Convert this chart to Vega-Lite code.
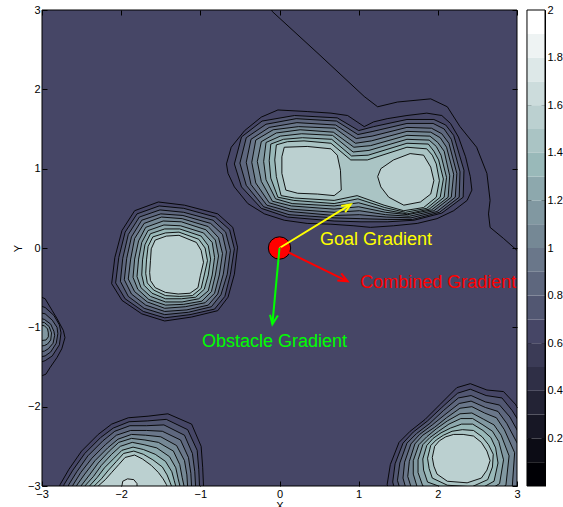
{
"$schema":"https://vega.github.io/schema/vega-lite/v6.json",
"width":475,"height":476,
"autosize":{"type":"none"},
"padding":{"left":42,"top":10,"right":46,"bottom":21},
"background":"white",
"view":{"fill":"#464666","stroke":null},
"config":{"font":"Liberation Sans","view":{"stroke":null},
"axis":{"grid":false,"domain":false,"tickColor":"black","labelColor":"black","titleColor":"black","labelFont":"Liberation Sans","titleFont":"Liberation Sans","labelFontSize":11,"titleFontSize":11,"titleFontWeight":"normal","tickSize":-5,"labelPadding":7,"tickWidth":1,"labelFlush":false,"labelOverlap":false}},
"datasets":{
"c":[
{"g":0,"b":6,"x":-0.67,"y":1.06},{"g":0,"b":6,"x":-0.61,"y":1.27},{"g":0,"b":6,"x":-0.44,"y":1.48},{"g":0,"b":6,"x":-0.23,"y":1.65},{"g":0,"b":6,"x":-0.02,"y":1.74},{"g":0,"b":6,"x":0.35,"y":1.72},{"g":0,"b":6,"x":0.65,"y":1.70},{"g":0,"b":6,"x":0.86,"y":1.67},{"g":0,"b":6,"x":0.98,"y":1.59},{"g":0,"b":6,"x":1.07,"y":1.53},{"g":0,"b":6,"x":1.19,"y":1.59},{"g":0,"b":6,"x":1.36,"y":1.63},{"g":0,"b":6,"x":1.61,"y":1.67},{"g":0,"b":6,"x":1.86,"y":1.70},{"g":0,"b":6,"x":2.05,"y":1.67},{"g":0,"b":6,"x":2.16,"y":1.57},{"g":0,"b":6,"x":2.26,"y":1.40},{"g":0,"b":6,"x":2.35,"y":1.15},{"g":0,"b":6,"x":2.41,"y":0.90},{"g":0,"b":6,"x":2.43,"y":0.73},{"g":0,"b":6,"x":2.37,"y":0.60},{"g":0,"b":6,"x":2.20,"y":0.47},{"g":0,"b":6,"x":1.99,"y":0.37},{"g":0,"b":6,"x":1.74,"y":0.31},{"g":0,"b":6,"x":1.44,"y":0.28},{"g":0,"b":6,"x":1.15,"y":0.26},{"g":0,"b":6,"x":0.94,"y":0.28},{"g":0,"b":6,"x":0.65,"y":0.30},{"g":0,"b":6,"x":0.35,"y":0.31},{"g":0,"b":6,"x":0.06,"y":0.35},{"g":0,"b":6,"x":-0.19,"y":0.43},{"g":0,"b":6,"x":-0.40,"y":0.56},{"g":0,"b":6,"x":-0.57,"y":0.77},{"g":0,"b":6,"x":-0.65,"y":0.94},{"g":0,"b":6,"x":-0.67,"y":1.06},
{"g":1,"b":6,"x":-1.83,"y":0.47},{"g":1,"b":6,"x":-1.53,"y":0.58},{"g":1,"b":6,"x":-1.20,"y":0.54},{"g":1,"b":6,"x":-0.78,"y":0.43},{"g":1,"b":6,"x":-0.59,"y":0.26},{"g":1,"b":6,"x":-0.53,"y":0.01},{"g":1,"b":6,"x":-0.57,"y":-0.33},{"g":1,"b":6,"x":-0.65,"y":-0.62},{"g":1,"b":6,"x":-0.78,"y":-0.79},{"g":1,"b":6,"x":-1.11,"y":-0.87},{"g":1,"b":6,"x":-1.45,"y":-0.92},{"g":1,"b":6,"x":-1.74,"y":-0.83},{"g":1,"b":6,"x":-1.99,"y":-0.66},{"g":1,"b":6,"x":-2.12,"y":-0.45},{"g":1,"b":6,"x":-2.08,"y":-0.12},{"g":1,"b":6,"x":-1.99,"y":0.22},{"g":1,"b":6,"x":-1.83,"y":0.47},
{"g":2,"b":6,"x":1.45,"y":-3.30},{"g":2,"b":6,"x":1.36,"y":-2.98},{"g":2,"b":6,"x":1.40,"y":-2.73},{"g":2,"b":6,"x":1.51,"y":-2.45},{"g":2,"b":6,"x":1.65,"y":-2.31},{"g":2,"b":6,"x":1.84,"y":-2.16},{"g":2,"b":6,"x":2.03,"y":-1.97},{"g":2,"b":6,"x":2.24,"y":-1.76},{"g":2,"b":6,"x":2.41,"y":-1.71},{"g":2,"b":6,"x":2.62,"y":-1.79},{"g":2,"b":6,"x":2.83,"y":-1.81},{"g":2,"b":6,"x":2.98,"y":-1.97},{"g":2,"b":6,"x":3.25,"y":-2.40},{"g":2,"b":6,"x":3.25,"y":-3.10},{"g":2,"b":6,"x":2.90,"y":-3.40},{"g":2,"b":6,"x":2.10,"y":-3.40},{"g":2,"b":6,"x":1.45,"y":-3.30},
{"g":3,"b":6,"x":-2.85,"y":-3.20},{"g":3,"b":6,"x":-2.77,"y":-2.98},{"g":3,"b":6,"x":-2.66,"y":-2.79},{"g":3,"b":6,"x":-2.50,"y":-2.56},{"g":3,"b":6,"x":-2.29,"y":-2.35},{"g":3,"b":6,"x":-2.12,"y":-2.22},{"g":3,"b":6,"x":-1.91,"y":-2.14},{"g":3,"b":6,"x":-1.66,"y":-2.12},{"g":3,"b":6,"x":-1.41,"y":-2.09},{"g":3,"b":6,"x":-1.11,"y":-2.22},{"g":3,"b":6,"x":-0.99,"y":-2.50},{"g":3,"b":6,"x":-0.97,"y":-2.77},{"g":3,"b":6,"x":-0.96,"y":-3.00},{"g":3,"b":6,"x":-0.95,"y":-3.20},{"g":3,"b":6,"x":-2.85,"y":-3.20},
{"g":4,"b":6,"x":-3.05,"y":-0.60},{"g":4,"b":6,"x":-2.96,"y":-0.64},{"g":4,"b":6,"x":-2.87,"y":-0.79},{"g":4,"b":6,"x":-2.81,"y":-0.89},{"g":4,"b":6,"x":-2.73,"y":-1.04},{"g":4,"b":6,"x":-2.71,"y":-1.13},{"g":4,"b":6,"x":-2.75,"y":-1.27},{"g":4,"b":6,"x":-2.81,"y":-1.38},{"g":4,"b":6,"x":-2.90,"y":-1.51},{"g":4,"b":6,"x":-2.95,"y":-1.59},{"g":4,"b":6,"x":-3.05,"y":-1.63},{"g":4,"b":6,"x":-3.05,"y":-0.60},

{"g":0,"b":7,"x":-0.48,"y":1.40},{"g":0,"b":7,"x":-0.22,"y":1.60},{"g":0,"b":7,"x":0.19,"y":1.67},{"g":0,"b":7,"x":0.73,"y":1.64},{"g":0,"b":7,"x":1.00,"y":1.48},{"g":0,"b":7,"x":1.19,"y":1.53},{"g":0,"b":7,"x":1.61,"y":1.62},{"g":0,"b":7,"x":1.95,"y":1.62},{"g":0,"b":7,"x":2.10,"y":1.55},{"g":0,"b":7,"x":2.20,"y":1.42},{"g":0,"b":7,"x":2.33,"y":0.98},{"g":0,"b":7,"x":2.32,"y":0.64},{"g":0,"b":7,"x":2.05,"y":0.44},{"g":0,"b":7,"x":1.70,"y":0.35},{"g":0,"b":7,"x":1.36,"y":0.33},{"g":0,"b":7,"x":1.03,"y":0.33},{"g":0,"b":7,"x":0.69,"y":0.34},{"g":0,"b":7,"x":0.10,"y":0.39},{"g":0,"b":7,"x":-0.23,"y":0.50},{"g":0,"b":7,"x":-0.48,"y":0.77},{"g":0,"b":7,"x":-0.57,"y":1.06},{"g":0,"b":7,"x":-0.48,"y":1.40},
{"g":1,"b":7,"x":-1.80,"y":0.43},{"g":1,"b":7,"x":-1.52,"y":0.53},{"g":1,"b":7,"x":-1.21,"y":0.50},{"g":1,"b":7,"x":-0.81,"y":0.39},{"g":1,"b":7,"x":-0.63,"y":0.23},{"g":1,"b":7,"x":-0.57,"y":-0.01},{"g":1,"b":7,"x":-0.62,"y":-0.33},{"g":1,"b":7,"x":-0.69,"y":-0.61},{"g":1,"b":7,"x":-0.82,"y":-0.77},{"g":1,"b":7,"x":-1.13,"y":-0.84},{"g":1,"b":7,"x":-1.45,"y":-0.88},{"g":1,"b":7,"x":-1.72,"y":-0.80},{"g":1,"b":7,"x":-1.95,"y":-0.64},{"g":1,"b":7,"x":-2.07,"y":-0.44},{"g":1,"b":7,"x":-2.03,"y":-0.12},{"g":1,"b":7,"x":-1.95,"y":0.20},{"g":1,"b":7,"x":-1.80,"y":0.43},
{"g":2,"b":7,"x":1.51,"y":-3.25},{"g":2,"b":7,"x":1.43,"y":-2.95},{"g":2,"b":7,"x":1.46,"y":-2.72},{"g":2,"b":7,"x":1.56,"y":-2.46},{"g":2,"b":7,"x":1.69,"y":-2.32},{"g":2,"b":7,"x":1.87,"y":-2.18},{"g":2,"b":7,"x":2.05,"y":-2.01},{"g":2,"b":7,"x":2.25,"y":-1.83},{"g":2,"b":7,"x":2.41,"y":-1.78},{"g":2,"b":7,"x":2.61,"y":-1.86},{"g":2,"b":7,"x":2.81,"y":-1.89},{"g":2,"b":7,"x":2.94,"y":-2.05},{"g":2,"b":7,"x":3.18,"y":-2.44},{"g":2,"b":7,"x":3.17,"y":-3.08},{"g":2,"b":7,"x":2.84,"y":-3.35},{"g":2,"b":7,"x":2.10,"y":-3.35},{"g":2,"b":7,"x":1.51,"y":-3.25},
{"g":3,"b":7,"x":-2.79,"y":-3.20},{"g":3,"b":7,"x":-2.72,"y":-2.98},{"g":3,"b":7,"x":-2.61,"y":-2.80},{"g":3,"b":7,"x":-2.46,"y":-2.59},{"g":3,"b":7,"x":-2.26,"y":-2.39},{"g":3,"b":7,"x":-2.10,"y":-2.27},{"g":3,"b":7,"x":-1.90,"y":-2.19},{"g":3,"b":7,"x":-1.67,"y":-2.18},{"g":3,"b":7,"x":-1.43,"y":-2.16},{"g":3,"b":7,"x":-1.16,"y":-2.29},{"g":3,"b":7,"x":-1.04,"y":-2.55},{"g":3,"b":7,"x":-1.02,"y":-2.79},{"g":3,"b":7,"x":-1.01,"y":-3.01},{"g":3,"b":7,"x":-1.00,"y":-3.20},{"g":3,"b":7,"x":-2.79,"y":-3.20},
{"g":4,"b":7,"x":-3.05,"y":-0.72},{"g":4,"b":7,"x":-2.96,"y":-0.75},{"g":4,"b":7,"x":-2.85,"y":-0.85},{"g":4,"b":7,"x":-2.78,"y":-0.97},{"g":4,"b":7,"x":-2.76,"y":-1.07},{"g":4,"b":7,"x":-2.78,"y":-1.22},{"g":4,"b":7,"x":-2.87,"y":-1.36},{"g":4,"b":7,"x":-2.96,"y":-1.42},{"g":4,"b":7,"x":-3.05,"y":-1.45},{"g":4,"b":7,"x":-3.05,"y":-0.72},

{"g":0,"b":8,"x":-0.42,"y":1.39},{"g":0,"b":8,"x":-0.17,"y":1.56},{"g":0,"b":8,"x":0.21,"y":1.63},{"g":0,"b":8,"x":0.72,"y":1.60},{"g":0,"b":8,"x":0.99,"y":1.43},{"g":0,"b":8,"x":1.18,"y":1.47},{"g":0,"b":8,"x":1.61,"y":1.57},{"g":0,"b":8,"x":1.94,"y":1.57},{"g":0,"b":8,"x":2.08,"y":1.50},{"g":0,"b":8,"x":2.17,"y":1.37},{"g":0,"b":8,"x":2.28,"y":0.96},{"g":0,"b":8,"x":2.27,"y":0.64},{"g":0,"b":8,"x":2.02,"y":0.45},{"g":0,"b":8,"x":1.68,"y":0.36},{"g":0,"b":8,"x":1.36,"y":0.36},{"g":0,"b":8,"x":1.02,"y":0.37},{"g":0,"b":8,"x":0.69,"y":0.38},{"g":0,"b":8,"x":0.12,"y":0.42},{"g":0,"b":8,"x":-0.20,"y":0.52},{"g":0,"b":8,"x":-0.42,"y":0.79},{"g":0,"b":8,"x":-0.50,"y":1.07},{"g":0,"b":8,"x":-0.42,"y":1.39},
{"g":1,"b":8,"x":-1.77,"y":0.39},{"g":1,"b":8,"x":-1.51,"y":0.48},{"g":1,"b":8,"x":-1.21,"y":0.45},{"g":1,"b":8,"x":-0.84,"y":0.35},{"g":1,"b":8,"x":-0.68,"y":0.20},{"g":1,"b":8,"x":-0.62,"y":-0.03},{"g":1,"b":8,"x":-0.66,"y":-0.33},{"g":1,"b":8,"x":-0.74,"y":-0.59},{"g":1,"b":8,"x":-0.86,"y":-0.74},{"g":1,"b":8,"x":-1.15,"y":-0.81},{"g":1,"b":8,"x":-1.45,"y":-0.84},{"g":1,"b":8,"x":-1.71,"y":-0.76},{"g":1,"b":8,"x":-1.91,"y":-0.61},{"g":1,"b":8,"x":-2.01,"y":-0.42},{"g":1,"b":8,"x":-1.98,"y":-0.13},{"g":1,"b":8,"x":-1.91,"y":0.17},{"g":1,"b":8,"x":-1.77,"y":0.39},
{"g":2,"b":8,"x":1.57,"y":-3.20},{"g":2,"b":8,"x":1.49,"y":-2.93},{"g":2,"b":8,"x":1.52,"y":-2.71},{"g":2,"b":8,"x":1.61,"y":-2.46},{"g":2,"b":8,"x":1.73,"y":-2.34},{"g":2,"b":8,"x":1.90,"y":-2.21},{"g":2,"b":8,"x":2.07,"y":-2.05},{"g":2,"b":8,"x":2.26,"y":-1.89},{"g":2,"b":8,"x":2.42,"y":-1.86},{"g":2,"b":8,"x":2.60,"y":-1.94},{"g":2,"b":8,"x":2.78,"y":-1.98},{"g":2,"b":8,"x":2.91,"y":-2.13},{"g":2,"b":8,"x":3.11,"y":-2.49},{"g":2,"b":8,"x":3.09,"y":-3.06},{"g":2,"b":8,"x":2.78,"y":-3.30},{"g":2,"b":8,"x":2.10,"y":-3.30},{"g":2,"b":8,"x":1.57,"y":-3.20},
{"g":3,"b":8,"x":-2.74,"y":-3.20},{"g":3,"b":8,"x":-2.66,"y":-2.98},{"g":3,"b":8,"x":-2.56,"y":-2.82},{"g":3,"b":8,"x":-2.42,"y":-2.62},{"g":3,"b":8,"x":-2.23,"y":-2.43},{"g":3,"b":8,"x":-2.08,"y":-2.31},{"g":3,"b":8,"x":-1.89,"y":-2.24},{"g":3,"b":8,"x":-1.68,"y":-2.24},{"g":3,"b":8,"x":-1.46,"y":-2.23},{"g":3,"b":8,"x":-1.20,"y":-2.36},{"g":3,"b":8,"x":-1.10,"y":-2.59},{"g":3,"b":8,"x":-1.07,"y":-2.82},{"g":3,"b":8,"x":-1.06,"y":-3.01},{"g":3,"b":8,"x":-1.05,"y":-3.20},{"g":3,"b":8,"x":-2.74,"y":-3.20},
{"g":4,"b":8,"x":-3.05,"y":-0.81},{"g":4,"b":8,"x":-2.96,"y":-0.83},{"g":4,"b":8,"x":-2.87,"y":-0.91},{"g":4,"b":8,"x":-2.81,"y":-1.00},{"g":4,"b":8,"x":-2.80,"y":-1.08},{"g":4,"b":8,"x":-2.82,"y":-1.20},{"g":4,"b":8,"x":-2.89,"y":-1.31},{"g":4,"b":8,"x":-2.96,"y":-1.36},{"g":4,"b":8,"x":-3.05,"y":-1.38},{"g":4,"b":8,"x":-3.05,"y":-0.81},

{"g":0,"b":9,"x":-0.36,"y":1.37},{"g":0,"b":9,"x":-0.13,"y":1.52},{"g":0,"b":9,"x":0.22,"y":1.58},{"g":0,"b":9,"x":0.71,"y":1.55},{"g":0,"b":9,"x":0.97,"y":1.38},{"g":0,"b":9,"x":1.17,"y":1.41},{"g":0,"b":9,"x":1.61,"y":1.52},{"g":0,"b":9,"x":1.92,"y":1.51},{"g":0,"b":9,"x":2.05,"y":1.44},{"g":0,"b":9,"x":2.14,"y":1.32},{"g":0,"b":9,"x":2.24,"y":0.94},{"g":0,"b":9,"x":2.22,"y":0.64},{"g":0,"b":9,"x":1.99,"y":0.46},{"g":0,"b":9,"x":1.66,"y":0.38},{"g":0,"b":9,"x":1.35,"y":0.39},{"g":0,"b":9,"x":1.01,"y":0.42},{"g":0,"b":9,"x":0.69,"y":0.41},{"g":0,"b":9,"x":0.13,"y":0.46},{"g":0,"b":9,"x":-0.16,"y":0.54},{"g":0,"b":9,"x":-0.36,"y":0.80},{"g":0,"b":9,"x":-0.42,"y":1.08},{"g":0,"b":9,"x":-0.36,"y":1.37},
{"g":1,"b":9,"x":-1.74,"y":0.35},{"g":1,"b":9,"x":-1.50,"y":0.43},{"g":1,"b":9,"x":-1.22,"y":0.41},{"g":1,"b":9,"x":-0.87,"y":0.31},{"g":1,"b":9,"x":-0.72,"y":0.17},{"g":1,"b":9,"x":-0.67,"y":-0.05},{"g":1,"b":9,"x":-0.71,"y":-0.33},{"g":1,"b":9,"x":-0.78,"y":-0.58},{"g":1,"b":9,"x":-0.90,"y":-0.72},{"g":1,"b":9,"x":-1.17,"y":-0.78},{"g":1,"b":9,"x":-1.45,"y":-0.80},{"g":1,"b":9,"x":-1.69,"y":-0.72},{"g":1,"b":9,"x":-1.87,"y":-0.58},{"g":1,"b":9,"x":-1.96,"y":-0.40},{"g":1,"b":9,"x":-1.93,"y":-0.13},{"g":1,"b":9,"x":-1.87,"y":0.14},{"g":1,"b":9,"x":-1.74,"y":0.35},
{"g":2,"b":9,"x":1.63,"y":-3.15},{"g":2,"b":9,"x":1.56,"y":-2.90},{"g":2,"b":9,"x":1.58,"y":-2.70},{"g":2,"b":9,"x":1.66,"y":-2.47},{"g":2,"b":9,"x":1.77,"y":-2.35},{"g":2,"b":9,"x":1.93,"y":-2.23},{"g":2,"b":9,"x":2.09,"y":-2.10},{"g":2,"b":9,"x":2.27,"y":-1.96},{"g":2,"b":9,"x":2.42,"y":-1.93},{"g":2,"b":9,"x":2.60,"y":-2.01},{"g":2,"b":9,"x":2.76,"y":-2.06},{"g":2,"b":9,"x":2.87,"y":-2.21},{"g":2,"b":9,"x":3.04,"y":-2.53},{"g":2,"b":9,"x":3.02,"y":-3.03},{"g":2,"b":9,"x":2.72,"y":-3.25},{"g":2,"b":9,"x":2.11,"y":-3.25},{"g":2,"b":9,"x":1.63,"y":-3.15},
{"g":3,"b":9,"x":-2.68,"y":-3.20},{"g":3,"b":9,"x":-2.61,"y":-2.99},{"g":3,"b":9,"x":-2.51,"y":-2.83},{"g":3,"b":9,"x":-2.37,"y":-2.65},{"g":3,"b":9,"x":-2.20,"y":-2.48},{"g":3,"b":9,"x":-2.06,"y":-2.36},{"g":3,"b":9,"x":-1.88,"y":-2.30},{"g":3,"b":9,"x":-1.68,"y":-2.30},{"g":3,"b":9,"x":-1.48,"y":-2.31},{"g":3,"b":9,"x":-1.25,"y":-2.42},{"g":3,"b":9,"x":-1.15,"y":-2.64},{"g":3,"b":9,"x":-1.12,"y":-2.84},{"g":3,"b":9,"x":-1.11,"y":-3.02},{"g":3,"b":9,"x":-1.10,"y":-3.20},{"g":3,"b":9,"x":-2.68,"y":-3.20},
{"g":4,"b":9,"x":-3.05,"y":-0.88},{"g":4,"b":9,"x":-2.97,"y":-0.90},{"g":4,"b":9,"x":-2.89,"y":-0.96},{"g":4,"b":9,"x":-2.85,"y":-1.05},{"g":4,"b":9,"x":-2.84,"y":-1.10},{"g":4,"b":9,"x":-2.86,"y":-1.20},{"g":4,"b":9,"x":-2.92,"y":-1.27},{"g":4,"b":9,"x":-2.97,"y":-1.30},{"g":4,"b":9,"x":-3.05,"y":-1.31},{"g":4,"b":9,"x":-3.05,"y":-0.88},

{"g":0,"b":10,"x":-0.30,"y":1.36},{"g":0,"b":10,"x":-0.08,"y":1.49},{"g":0,"b":10,"x":0.24,"y":1.53},{"g":0,"b":10,"x":0.70,"y":1.51},{"g":0,"b":10,"x":0.96,"y":1.32},{"g":0,"b":10,"x":1.16,"y":1.35},{"g":0,"b":10,"x":1.61,"y":1.47},{"g":0,"b":10,"x":1.91,"y":1.46},{"g":0,"b":10,"x":2.03,"y":1.39},{"g":0,"b":10,"x":2.11,"y":1.27},{"g":0,"b":10,"x":2.20,"y":0.93},{"g":0,"b":10,"x":2.17,"y":0.64},{"g":0,"b":10,"x":1.95,"y":0.47},{"g":0,"b":10,"x":1.64,"y":0.40},{"g":0,"b":10,"x":1.34,"y":0.42},{"g":0,"b":10,"x":1.01,"y":0.47},{"g":0,"b":10,"x":0.69,"y":0.45},{"g":0,"b":10,"x":0.14,"y":0.49},{"g":0,"b":10,"x":-0.13,"y":0.57},{"g":0,"b":10,"x":-0.30,"y":0.82},{"g":0,"b":10,"x":-0.35,"y":1.08},{"g":0,"b":10,"x":-0.30,"y":1.36},
{"g":1,"b":10,"x":-1.71,"y":0.31},{"g":1,"b":10,"x":-1.49,"y":0.39},{"g":1,"b":10,"x":-1.23,"y":0.37},{"g":1,"b":10,"x":-0.90,"y":0.27},{"g":1,"b":10,"x":-0.77,"y":0.13},{"g":1,"b":10,"x":-0.72,"y":-0.07},{"g":1,"b":10,"x":-0.76,"y":-0.34},{"g":1,"b":10,"x":-0.82,"y":-0.57},{"g":1,"b":10,"x":-0.94,"y":-0.69},{"g":1,"b":10,"x":-1.19,"y":-0.74},{"g":1,"b":10,"x":-1.45,"y":-0.76},{"g":1,"b":10,"x":-1.67,"y":-0.68},{"g":1,"b":10,"x":-1.83,"y":-0.55},{"g":1,"b":10,"x":-1.91,"y":-0.39},{"g":1,"b":10,"x":-1.88,"y":-0.14},{"g":1,"b":10,"x":-1.83,"y":0.12},{"g":1,"b":10,"x":-1.71,"y":0.31},
{"g":2,"b":10,"x":1.69,"y":-3.10},{"g":2,"b":10,"x":1.62,"y":-2.88},{"g":2,"b":10,"x":1.64,"y":-2.69},{"g":2,"b":10,"x":1.71,"y":-2.47},{"g":2,"b":10,"x":1.81,"y":-2.36},{"g":2,"b":10,"x":1.96,"y":-2.26},{"g":2,"b":10,"x":2.11,"y":-2.14},{"g":2,"b":10,"x":2.28,"y":-2.02},{"g":2,"b":10,"x":2.43,"y":-2.00},{"g":2,"b":10,"x":2.59,"y":-2.08},{"g":2,"b":10,"x":2.74,"y":-2.14},{"g":2,"b":10,"x":2.84,"y":-2.29},{"g":2,"b":10,"x":2.97,"y":-2.58},{"g":2,"b":10,"x":2.94,"y":-3.01},{"g":2,"b":10,"x":2.66,"y":-3.20},{"g":2,"b":10,"x":2.11,"y":-3.20},{"g":2,"b":10,"x":1.69,"y":-3.10},
{"g":3,"b":10,"x":-2.63,"y":-3.20},{"g":3,"b":10,"x":-2.56,"y":-2.99},{"g":3,"b":10,"x":-2.46,"y":-2.85},{"g":3,"b":10,"x":-2.33,"y":-2.68},{"g":3,"b":10,"x":-2.17,"y":-2.52},{"g":3,"b":10,"x":-2.04,"y":-2.41},{"g":3,"b":10,"x":-1.87,"y":-2.35},{"g":3,"b":10,"x":-1.69,"y":-2.36},{"g":3,"b":10,"x":-1.50,"y":-2.38},{"g":3,"b":10,"x":-1.30,"y":-2.49},{"g":3,"b":10,"x":-1.20,"y":-2.68},{"g":3,"b":10,"x":-1.17,"y":-2.86},{"g":3,"b":10,"x":-1.16,"y":-3.02},{"g":3,"b":10,"x":-1.15,"y":-3.20},{"g":3,"b":10,"x":-2.63,"y":-3.20},
{"g":4,"b":10,"x":-3.05,"y":-0.93},{"g":4,"b":10,"x":-2.97,"y":-0.94},{"g":4,"b":10,"x":-2.91,"y":-0.99},{"g":4,"b":10,"x":-2.88,"y":-1.07},{"g":4,"b":10,"x":-2.89,"y":-1.16},{"g":4,"b":10,"x":-2.93,"y":-1.21},{"g":4,"b":10,"x":-2.97,"y":-1.23},{"g":4,"b":10,"x":-3.05,"y":-1.24},{"g":4,"b":10,"x":-3.05,"y":-0.93},

{"g":0,"b":11,"x":-0.23,"y":1.34},{"g":0,"b":11,"x":-0.04,"y":1.45},{"g":0,"b":11,"x":0.26,"y":1.49},{"g":0,"b":11,"x":0.68,"y":1.46},{"g":0,"b":11,"x":0.94,"y":1.27},{"g":0,"b":11,"x":1.15,"y":1.29},{"g":0,"b":11,"x":1.61,"y":1.42},{"g":0,"b":11,"x":1.90,"y":1.41},{"g":0,"b":11,"x":2.00,"y":1.33},{"g":0,"b":11,"x":2.08,"y":1.22},{"g":0,"b":11,"x":2.15,"y":0.91},{"g":0,"b":11,"x":2.13,"y":0.64},{"g":0,"b":11,"x":1.92,"y":0.48},{"g":0,"b":11,"x":1.62,"y":0.42},{"g":0,"b":11,"x":1.34,"y":0.45},{"g":0,"b":11,"x":1.00,"y":0.52},{"g":0,"b":11,"x":0.69,"y":0.49},{"g":0,"b":11,"x":0.15,"y":0.53},{"g":0,"b":11,"x":-0.09,"y":0.59},{"g":0,"b":11,"x":-0.23,"y":0.84},{"g":0,"b":11,"x":-0.28,"y":1.09},{"g":0,"b":11,"x":-0.23,"y":1.34},
{"g":1,"b":11,"x":-1.69,"y":0.26},{"g":1,"b":11,"x":-1.47,"y":0.34},{"g":1,"b":11,"x":-1.24,"y":0.33},{"g":1,"b":11,"x":-0.93,"y":0.23},{"g":1,"b":11,"x":-0.81,"y":0.10},{"g":1,"b":11,"x":-0.77,"y":-0.10},{"g":1,"b":11,"x":-0.81,"y":-0.34},{"g":1,"b":11,"x":-0.86,"y":-0.55},{"g":1,"b":11,"x":-0.98,"y":-0.67},{"g":1,"b":11,"x":-1.21,"y":-0.71},{"g":1,"b":11,"x":-1.44,"y":-0.72},{"g":1,"b":11,"x":-1.65,"y":-0.65},{"g":1,"b":11,"x":-1.79,"y":-0.52},{"g":1,"b":11,"x":-1.85,"y":-0.37},{"g":1,"b":11,"x":-1.83,"y":-0.14},{"g":1,"b":11,"x":-1.78,"y":0.09},{"g":1,"b":11,"x":-1.69,"y":0.26},
{"g":2,"b":11,"x":1.75,"y":-3.05},{"g":2,"b":11,"x":1.69,"y":-2.85},{"g":2,"b":11,"x":1.69,"y":-2.68},{"g":2,"b":11,"x":1.76,"y":-2.48},{"g":2,"b":11,"x":1.86,"y":-2.38},{"g":2,"b":11,"x":1.98,"y":-2.28},{"g":2,"b":11,"x":2.12,"y":-2.18},{"g":2,"b":11,"x":2.28,"y":-2.09},{"g":2,"b":11,"x":2.43,"y":-2.08},{"g":2,"b":11,"x":2.58,"y":-2.16},{"g":2,"b":11,"x":2.71,"y":-2.23},{"g":2,"b":11,"x":2.80,"y":-2.36},{"g":2,"b":11,"x":2.90,"y":-2.62},{"g":2,"b":11,"x":2.86,"y":-2.99},{"g":2,"b":11,"x":2.61,"y":-3.16},{"g":2,"b":11,"x":2.11,"y":-3.14},{"g":2,"b":11,"x":1.75,"y":-3.05},
{"g":3,"b":11,"x":-2.57,"y":-3.20},{"g":3,"b":11,"x":-2.50,"y":-2.99},{"g":3,"b":11,"x":-2.40,"y":-2.86},{"g":3,"b":11,"x":-2.29,"y":-2.71},{"g":3,"b":11,"x":-2.15,"y":-2.56},{"g":3,"b":11,"x":-2.03,"y":-2.45},{"g":3,"b":11,"x":-1.87,"y":-2.40},{"g":3,"b":11,"x":-1.70,"y":-2.42},{"g":3,"b":11,"x":-1.53,"y":-2.45},{"g":3,"b":11,"x":-1.34,"y":-2.56},{"g":3,"b":11,"x":-1.26,"y":-2.73},{"g":3,"b":11,"x":-1.23,"y":-2.89},{"g":3,"b":11,"x":-1.20,"y":-3.03},{"g":3,"b":11,"x":-1.20,"y":-3.20},{"g":3,"b":11,"x":-2.57,"y":-3.20},
{"g":4,"b":11,"x":-3.05,"y":-0.97},{"g":4,"b":11,"x":-2.97,"y":-0.98},{"g":4,"b":11,"x":-2.93,"y":-1.02},{"g":4,"b":11,"x":-2.92,"y":-1.07},{"g":4,"b":11,"x":-2.92,"y":-1.12},{"g":4,"b":11,"x":-2.95,"y":-1.16},{"g":4,"b":11,"x":-3.05,"y":-1.17},{"g":4,"b":11,"x":-3.05,"y":-0.97},

{"g":0,"b":12,"x":-0.17,"y":1.33},{"g":0,"b":12,"x":0.01,"y":1.41},{"g":0,"b":12,"x":0.28,"y":1.44},{"g":0,"b":12,"x":0.67,"y":1.42},{"g":0,"b":12,"x":0.93,"y":1.21},{"g":0,"b":12,"x":1.13,"y":1.23},{"g":0,"b":12,"x":1.61,"y":1.37},{"g":0,"b":12,"x":1.89,"y":1.36},{"g":0,"b":12,"x":1.98,"y":1.28},{"g":0,"b":12,"x":2.04,"y":1.17},{"g":0,"b":12,"x":2.11,"y":0.89},{"g":0,"b":12,"x":2.08,"y":0.64},{"g":0,"b":12,"x":1.89,"y":0.49},{"g":0,"b":12,"x":1.61,"y":0.43},{"g":0,"b":12,"x":1.33,"y":0.48},{"g":0,"b":12,"x":1.00,"y":0.57},{"g":0,"b":12,"x":0.69,"y":0.53},{"g":0,"b":12,"x":0.16,"y":0.56},{"g":0,"b":12,"x":-0.05,"y":0.62},{"g":0,"b":12,"x":-0.17,"y":0.86},{"g":0,"b":12,"x":-0.20,"y":1.09},{"g":0,"b":12,"x":-0.17,"y":1.33},
{"g":1,"b":12,"x":-1.66,"y":0.22},{"g":1,"b":12,"x":-1.46,"y":0.29},{"g":1,"b":12,"x":-1.25,"y":0.28},{"g":1,"b":12,"x":-0.96,"y":0.19},{"g":1,"b":12,"x":-0.85,"y":0.07},{"g":1,"b":12,"x":-0.82,"y":-0.12},{"g":1,"b":12,"x":-0.85,"y":-0.34},{"g":1,"b":12,"x":-0.90,"y":-0.54},{"g":1,"b":12,"x":-1.02,"y":-0.64},{"g":1,"b":12,"x":-1.23,"y":-0.68},{"g":1,"b":12,"x":-1.44,"y":-0.68},{"g":1,"b":12,"x":-1.63,"y":-0.61},{"g":1,"b":12,"x":-1.75,"y":-0.50},{"g":1,"b":12,"x":-1.80,"y":-0.36},{"g":1,"b":12,"x":-1.78,"y":-0.14},{"g":1,"b":12,"x":-1.74,"y":0.07},{"g":1,"b":12,"x":-1.66,"y":0.22},
{"g":2,"b":12,"x":1.81,"y":-3.00},{"g":2,"b":12,"x":1.75,"y":-2.83},{"g":2,"b":12,"x":1.75,"y":-2.67},{"g":2,"b":12,"x":1.81,"y":-2.48},{"g":2,"b":12,"x":1.90,"y":-2.39},{"g":2,"b":12,"x":2.01,"y":-2.31},{"g":2,"b":12,"x":2.14,"y":-2.22},{"g":2,"b":12,"x":2.29,"y":-2.15},{"g":2,"b":12,"x":2.44,"y":-2.15},{"g":2,"b":12,"x":2.57,"y":-2.23},{"g":2,"b":12,"x":2.69,"y":-2.31},{"g":2,"b":12,"x":2.77,"y":-2.44},{"g":2,"b":12,"x":2.83,"y":-2.67},{"g":2,"b":12,"x":2.78,"y":-2.97},{"g":2,"b":12,"x":2.55,"y":-3.11},{"g":2,"b":12,"x":2.11,"y":-3.09},{"g":2,"b":12,"x":1.81,"y":-3.00},
{"g":3,"b":12,"x":-2.52,"y":-3.20},{"g":3,"b":12,"x":-2.45,"y":-2.99},{"g":3,"b":12,"x":-2.35,"y":-2.88},{"g":3,"b":12,"x":-2.25,"y":-2.74},{"g":3,"b":12,"x":-2.12,"y":-2.60},{"g":3,"b":12,"x":-2.01,"y":-2.50},{"g":3,"b":12,"x":-1.86,"y":-2.45},{"g":3,"b":12,"x":-1.71,"y":-2.48},{"g":3,"b":12,"x":-1.55,"y":-2.52},{"g":3,"b":12,"x":-1.39,"y":-2.63},{"g":3,"b":12,"x":-1.31,"y":-2.77},{"g":3,"b":12,"x":-1.28,"y":-2.91},{"g":3,"b":12,"x":-1.25,"y":-3.03},{"g":3,"b":12,"x":-1.25,"y":-3.20},{"g":3,"b":12,"x":-2.52,"y":-3.20},

{"g":0,"b":13,"x":-0.11,"y":1.31},{"g":0,"b":13,"x":0.05,"y":1.37},{"g":0,"b":13,"x":0.29,"y":1.39},{"g":0,"b":13,"x":0.66,"y":1.37},{"g":0,"b":13,"x":0.91,"y":1.16},{"g":0,"b":13,"x":1.12,"y":1.17},{"g":0,"b":13,"x":1.61,"y":1.32},{"g":0,"b":13,"x":1.88,"y":1.31},{"g":0,"b":13,"x":1.95,"y":1.22},{"g":0,"b":13,"x":2.01,"y":1.11},{"g":0,"b":13,"x":2.07,"y":0.87},{"g":0,"b":13,"x":2.03,"y":0.64},{"g":0,"b":13,"x":1.86,"y":0.50},{"g":0,"b":13,"x":1.59,"y":0.45},{"g":0,"b":13,"x":1.33,"y":0.51},{"g":0,"b":13,"x":0.99,"y":0.62},{"g":0,"b":13,"x":0.69,"y":0.56},{"g":0,"b":13,"x":0.18,"y":0.60},{"g":0,"b":13,"x":-0.02,"y":0.64},{"g":0,"b":13,"x":-0.11,"y":0.88},{"g":0,"b":13,"x":-0.13,"y":1.10},{"g":0,"b":13,"x":-0.11,"y":1.31},
{"g":1,"b":13,"x":-1.63,"y":0.18},{"g":1,"b":13,"x":-1.45,"y":0.24},{"g":1,"b":13,"x":-1.26,"y":0.24},{"g":1,"b":13,"x":-0.99,"y":0.15},{"g":1,"b":13,"x":-0.90,"y":0.03},{"g":1,"b":13,"x":-0.87,"y":-0.14},{"g":1,"b":13,"x":-0.90,"y":-0.34},{"g":1,"b":13,"x":-0.95,"y":-0.52},{"g":1,"b":13,"x":-1.06,"y":-0.62},{"g":1,"b":13,"x":-1.24,"y":-0.64},{"g":1,"b":13,"x":-1.44,"y":-0.64},{"g":1,"b":13,"x":-1.61,"y":-0.57},{"g":1,"b":13,"x":-1.71,"y":-0.47},{"g":1,"b":13,"x":-1.74,"y":-0.34},{"g":1,"b":13,"x":-1.73,"y":-0.15},{"g":1,"b":13,"x":-1.70,"y":0.04},{"g":1,"b":13,"x":-1.63,"y":0.18},
{"g":2,"b":13,"x":1.87,"y":-2.95},{"g":2,"b":13,"x":1.82,"y":-2.80},{"g":2,"b":13,"x":1.81,"y":-2.66},{"g":2,"b":13,"x":1.86,"y":-2.49},{"g":2,"b":13,"x":1.94,"y":-2.40},{"g":2,"b":13,"x":2.04,"y":-2.33},{"g":2,"b":13,"x":2.16,"y":-2.27},{"g":2,"b":13,"x":2.30,"y":-2.22},{"g":2,"b":13,"x":2.44,"y":-2.22},{"g":2,"b":13,"x":2.57,"y":-2.30},{"g":2,"b":13,"x":2.67,"y":-2.39},{"g":2,"b":13,"x":2.73,"y":-2.52},{"g":2,"b":13,"x":2.76,"y":-2.71},{"g":2,"b":13,"x":2.71,"y":-2.94},{"g":2,"b":13,"x":2.49,"y":-3.06},{"g":2,"b":13,"x":2.12,"y":-3.04},{"g":2,"b":13,"x":1.87,"y":-2.95},
{"g":3,"b":13,"x":-2.46,"y":-3.20},{"g":3,"b":13,"x":-2.40,"y":-3.00},{"g":3,"b":13,"x":-2.30,"y":-2.89},{"g":3,"b":13,"x":-2.21,"y":-2.77},{"g":3,"b":13,"x":-2.09,"y":-2.65},{"g":3,"b":13,"x":-1.99,"y":-2.55},{"g":3,"b":13,"x":-1.85,"y":-2.51},{"g":3,"b":13,"x":-1.72,"y":-2.54},{"g":3,"b":13,"x":-1.57,"y":-2.60},{"g":3,"b":13,"x":-1.44,"y":-2.69},{"g":3,"b":13,"x":-1.36,"y":-2.82},{"g":3,"b":13,"x":-1.33,"y":-2.93},{"g":3,"b":13,"x":-1.30,"y":-3.04},{"g":3,"b":13,"x":-1.30,"y":-3.20},{"g":3,"b":13,"x":-2.46,"y":-3.20},

{"g":0,"b":14,"x":-0.04,"y":1.30},{"g":0,"b":14,"x":0.10,"y":1.34},{"g":0,"b":14,"x":0.31,"y":1.35},{"g":0,"b":14,"x":0.65,"y":1.32},{"g":0,"b":14,"x":0.90,"y":1.11},{"g":0,"b":14,"x":1.11,"y":1.11},{"g":0,"b":14,"x":1.61,"y":1.27},{"g":0,"b":14,"x":1.86,"y":1.25},{"g":0,"b":14,"x":1.93,"y":1.17},{"g":0,"b":14,"x":1.98,"y":1.06},{"g":0,"b":14,"x":2.02,"y":0.85},{"g":0,"b":14,"x":1.98,"y":0.64},{"g":0,"b":14,"x":1.82,"y":0.51},{"g":0,"b":14,"x":1.57,"y":0.47},{"g":0,"b":14,"x":1.32,"y":0.54},{"g":0,"b":14,"x":0.98,"y":0.66},{"g":0,"b":14,"x":0.69,"y":0.60},{"g":0,"b":14,"x":0.19,"y":0.63},{"g":0,"b":14,"x":0.02,"y":0.66},{"g":0,"b":14,"x":-0.04,"y":0.90},{"g":0,"b":14,"x":-0.06,"y":1.11},{"g":0,"b":14,"x":-0.04,"y":1.30},
{"g":1,"b":14,"x":-1.60,"y":0.14},{"g":1,"b":14,"x":-1.44,"y":0.19},{"g":1,"b":14,"x":-1.27,"y":0.20},{"g":1,"b":14,"x":-1.02,"y":0.11},{"g":1,"b":14,"x":-0.94,"y":0.00},{"g":1,"b":14,"x":-0.91,"y":-0.16},{"g":1,"b":14,"x":-0.95,"y":-0.34},{"g":1,"b":14,"x":-0.99,"y":-0.51},{"g":1,"b":14,"x":-1.10,"y":-0.60},{"g":1,"b":14,"x":-1.26,"y":-0.61},{"g":1,"b":14,"x":-1.44,"y":-0.60},{"g":1,"b":14,"x":-1.59,"y":-0.53},{"g":1,"b":14,"x":-1.67,"y":-0.44},{"g":1,"b":14,"x":-1.69,"y":-0.32},{"g":1,"b":14,"x":-1.68,"y":-0.15},{"g":1,"b":14,"x":-1.66,"y":0.02},{"g":1,"b":14,"x":-1.60,"y":0.14},
{"g":2,"b":14,"x":1.93,"y":-2.90},{"g":2,"b":14,"x":1.89,"y":-2.78},{"g":2,"b":14,"x":1.87,"y":-2.65},{"g":2,"b":14,"x":1.91,"y":-2.49},{"g":2,"b":14,"x":1.98,"y":-2.42},{"g":2,"b":14,"x":2.07,"y":-2.36},{"g":2,"b":14,"x":2.18,"y":-2.31},{"g":2,"b":14,"x":2.31,"y":-2.29},{"g":2,"b":14,"x":2.45,"y":-2.30},{"g":2,"b":14,"x":2.56,"y":-2.38},{"g":2,"b":14,"x":2.64,"y":-2.48},{"g":2,"b":14,"x":2.70,"y":-2.60},{"g":2,"b":14,"x":2.69,"y":-2.76},{"g":2,"b":14,"x":2.63,"y":-2.92},{"g":2,"b":14,"x":2.43,"y":-3.01},{"g":2,"b":14,"x":2.12,"y":-2.99},{"g":2,"b":14,"x":1.93,"y":-2.90},
{"g":3,"b":14,"x":-2.41,"y":-3.20},{"g":3,"b":14,"x":-2.34,"y":-3.00},{"g":3,"b":14,"x":-2.25,"y":-2.91},{"g":3,"b":14,"x":-2.16,"y":-2.80},{"g":3,"b":14,"x":-2.06,"y":-2.69},{"g":3,"b":14,"x":-1.97,"y":-2.59},{"g":3,"b":14,"x":-1.84,"y":-2.56},{"g":3,"b":14,"x":-1.72,"y":-2.60},{"g":3,"b":14,"x":-1.60,"y":-2.67},{"g":3,"b":14,"x":-1.48,"y":-2.76},{"g":3,"b":14,"x":-1.42,"y":-2.86},{"g":3,"b":14,"x":-1.38,"y":-2.96},{"g":3,"b":14,"x":-1.35,"y":-3.04},{"g":3,"b":14,"x":-1.35,"y":-3.20},{"g":3,"b":14,"x":-2.41,"y":-3.20},

{"g":0,"b":15,"x":0.06,"y":1.27},{"g":0,"b":15,"x":0.35,"y":1.28},{"g":0,"b":15,"x":0.65,"y":1.25},{"g":0,"b":15,"x":0.73,"y":1.17},{"g":0,"b":15,"x":0.77,"y":0.98},{"g":0,"b":15,"x":0.78,"y":0.73},{"g":0,"b":15,"x":0.69,"y":0.66},{"g":0,"b":15,"x":0.48,"y":0.68},{"g":0,"b":15,"x":0.23,"y":0.69},{"g":0,"b":15,"x":0.08,"y":0.73},{"g":0,"b":15,"x":0.03,"y":0.94},{"g":0,"b":15,"x":0.03,"y":1.15},{"g":0,"b":15,"x":0.06,"y":1.27},
{"g":1,"b":15,"x":-1.57,"y":0.10},{"g":1,"b":15,"x":-1.43,"y":0.15},{"g":1,"b":15,"x":-1.27,"y":0.16},{"g":1,"b":15,"x":-1.05,"y":0.07},{"g":1,"b":15,"x":-0.99,"y":-0.03},{"g":1,"b":15,"x":-0.96,"y":-0.18},{"g":1,"b":15,"x":-1.00,"y":-0.35},{"g":1,"b":15,"x":-1.03,"y":-0.50},{"g":1,"b":15,"x":-1.13,"y":-0.57},{"g":1,"b":15,"x":-1.28,"y":-0.58},{"g":1,"b":15,"x":-1.44,"y":-0.56},{"g":1,"b":15,"x":-1.57,"y":-0.50},{"g":1,"b":15,"x":-1.63,"y":-0.41},{"g":1,"b":15,"x":-1.64,"y":-0.31},{"g":1,"b":15,"x":-1.63,"y":-0.16},{"g":1,"b":15,"x":-1.62,"y":-0.01},{"g":1,"b":15,"x":-1.57,"y":0.10},
{"g":2,"b":15,"x":1.99,"y":-2.85},{"g":2,"b":15,"x":1.95,"y":-2.75},{"g":2,"b":15,"x":1.93,"y":-2.64},{"g":2,"b":15,"x":1.96,"y":-2.50},{"g":2,"b":15,"x":2.02,"y":-2.43},{"g":2,"b":15,"x":2.10,"y":-2.38},{"g":2,"b":15,"x":2.20,"y":-2.35},{"g":2,"b":15,"x":2.32,"y":-2.35},{"g":2,"b":15,"x":2.45,"y":-2.37},{"g":2,"b":15,"x":2.55,"y":-2.45},{"g":2,"b":15,"x":2.62,"y":-2.56},{"g":2,"b":15,"x":2.66,"y":-2.68},{"g":2,"b":15,"x":2.62,"y":-2.80},{"g":2,"b":15,"x":2.55,"y":-2.90},{"g":2,"b":15,"x":2.37,"y":-2.96},{"g":2,"b":15,"x":2.12,"y":-2.94},{"g":2,"b":15,"x":1.99,"y":-2.85},
{"g":3,"b":15,"x":-2.35,"y":-3.20},{"g":3,"b":15,"x":-2.29,"y":-3.00},{"g":3,"b":15,"x":-2.20,"y":-2.92},{"g":3,"b":15,"x":-2.12,"y":-2.83},{"g":3,"b":15,"x":-2.03,"y":-2.73},{"g":3,"b":15,"x":-1.95,"y":-2.64},{"g":3,"b":15,"x":-1.83,"y":-2.61},{"g":3,"b":15,"x":-1.73,"y":-2.66},{"g":3,"b":15,"x":-1.62,"y":-2.74},{"g":3,"b":15,"x":-1.53,"y":-2.83},{"g":3,"b":15,"x":-1.47,"y":-2.91},{"g":3,"b":15,"x":-1.43,"y":-2.98},{"g":3,"b":15,"x":-1.40,"y":-3.05},{"g":3,"b":15,"x":-1.40,"y":-3.20},{"g":3,"b":15,"x":-2.35,"y":-3.20},
{"g":5,"b":15,"x":1.28,"y":1.00},{"g":5,"b":15,"x":1.44,"y":1.11},{"g":5,"b":15,"x":1.65,"y":1.19},{"g":5,"b":15,"x":1.82,"y":1.17},{"g":5,"b":15,"x":1.91,"y":1.02},{"g":5,"b":15,"x":1.95,"y":0.85},{"g":5,"b":15,"x":1.91,"y":0.68},{"g":5,"b":15,"x":1.78,"y":0.58},{"g":5,"b":15,"x":1.57,"y":0.54},{"g":5,"b":15,"x":1.38,"y":0.64},{"g":5,"b":15,"x":1.28,"y":0.77},{"g":5,"b":15,"x":1.24,"y":0.90},{"g":5,"b":15,"x":1.28,"y":1.00},
{"g":6,"b":16,"x":-2.00,"y":-3.05},{"g":6,"b":16,"x":-1.98,"y":-2.94},{"g":6,"b":16,"x":-1.92,"y":-2.91},{"g":6,"b":16,"x":-1.84,"y":-2.92},{"g":6,"b":16,"x":-1.80,"y":-2.97},{"g":6,"b":16,"x":-1.80,"y":-3.05},{"g":6,"b":16,"x":-2.00,"y":-3.05}
],
"iso":[{"x":-0.12,"y":3.05},{"x":-0.09,"y":2.98},{"x":0.50,"y":2.44},{"x":1.07,"y":1.91},{"x":1.24,"y":1.78},{"x":1.49,"y":1.84},{"x":1.91,"y":1.88},{"x":2.12,"y":1.78},{"x":2.28,"y":1.53},{"x":2.49,"y":1.27},{"x":2.62,"y":0.94},{"x":2.66,"y":0.60},{"x":2.64,"y":0.43},{"x":2.66,"y":0.26},{"x":2.83,"y":0.12},{"x":3.00,"y":-0.03},{"x":3.05,"y":-0.07}],
"arr":[{"k":"goal","s":"a","x":0,"y":0},{"k":"goal","s":"a","x":0.90,"y":0.55},{"k":"goal","s":"h","x":0.83,"y":0.45},{"k":"goal","s":"h","x":0.90,"y":0.55},{"k":"goal","s":"h","x":0.78,"y":0.53},
{"k":"combined","s":"a","x":0,"y":0},{"k":"combined","s":"a","x":0.86,"y":-0.42},{"k":"combined","s":"h","x":0.73,"y":-0.41},{"k":"combined","s":"h","x":0.86,"y":-0.42},{"k":"combined","s":"h","x":0.78,"y":-0.32},
{"k":"obstacle","s":"a","x":0,"y":0},{"k":"obstacle","s":"a","x":-0.09,"y":-0.96},{"k":"obstacle","s":"h","x":-0.02,"y":-0.85},{"k":"obstacle","s":"h","x":-0.09,"y":-0.96},{"k":"obstacle","s":"h","x":-0.12,"y":-0.84}],
"txt":[{"k":"goal","t":"Goal Gradient","x":0.51,"y":0.10},{"k":"combined","t":"Combined Gradient","x":1.02,"y":-0.445},{"k":"obstacle","t":"Obstacle Gradient","x":-0.98,"y":-1.18}],
"cb":[{"b":0,"lo":0,"hi":0.1},{"b":1,"lo":0.1,"hi":0.2},{"b":2,"lo":0.2,"hi":0.3},{"b":3,"lo":0.3,"hi":0.4},{"b":4,"lo":0.4,"hi":0.5},{"b":5,"lo":0.5,"hi":0.6},{"b":6,"lo":0.6,"hi":0.7},{"b":7,"lo":0.7,"hi":0.8},{"b":8,"lo":0.8,"hi":0.9},{"b":9,"lo":0.9,"hi":1.0},{"b":10,"lo":1.0,"hi":1.1},{"b":11,"lo":1.1,"hi":1.2},{"b":12,"lo":1.2,"hi":1.3},{"b":13,"lo":1.3,"hi":1.4},{"b":14,"lo":1.4,"hi":1.5},{"b":15,"lo":1.5,"hi":1.6},{"b":16,"lo":1.6,"hi":1.7},{"b":17,"lo":1.7,"hi":1.8},{"b":18,"lo":1.8,"hi":1.9},{"b":19,"lo":1.9,"hi":2.0}]
},
"resolve":{"scale":{"y":"independent"},"axis":{"x":"independent","y":"independent"}},
"layer":[
{"data":{"name":"c"},
"mark":{"type":"line","stroke":"black","strokeWidth":0.9,"clip":true},
"encoding":{
"x":{"field":"x","type":"quantitative","scale":{"domain":[-3,3],"nice":false},"axis":{"orient":"bottom","values":[-3,-2,-1,0,1,2,3],"title":"X","titlePadding":1}},
"y":{"field":"y","type":"quantitative","scale":{"domain":[-3,3],"nice":false},"axis":{"orient":"left","values":[-3,-2,-1,0,1,2,3],"title":"Y","titlePadding":4}},
"detail":{"field":"g"},
"fill":{"field":"b","type":"ordinal","scale":{"domain":[0,1,2,3,4,5,6,7,8,9,10,11,12,13,14,15,16,17,18,19],"range":["#000005","#0c0c15","#171725","#232335","#2f2f46","#3b3b56","#464666","#525772","#5e677e","#6a778a","#758895","#8198a1","#8da8ad","#99b9b9","#aac4c4","#bbd0d0","#ccdcdc","#dde8e8","#eef3f3","#ffffff"]},"legend":null},
"order":{"value":null}}},
{"data":{"name":"iso"},
"mark":{"type":"line","stroke":"black","strokeWidth":0.9,"clip":true},
"encoding":{
"x":{"field":"x","type":"quantitative","scale":{"domain":[-3,3],"nice":false},"axis":null},
"y":{"field":"y","type":"quantitative","scale":{"domain":[-3,3],"nice":false},"axis":null},
"order":{"value":null}}},
{"data":{"values":[{"x":0,"y":0}]},
"mark":{"type":"point","shape":"circle","filled":true,"fill":"#ff0000","stroke":"black","strokeWidth":1,"size":500,"opacity":1},
"encoding":{
"x":{"field":"x","type":"quantitative","scale":{"domain":[-3,3],"nice":false},"axis":null},
"y":{"field":"y","type":"quantitative","scale":{"domain":[-3,3],"nice":false},"axis":null}}},
{"data":{"name":"arr"},
"mark":{"type":"line","strokeWidth":2},
"encoding":{
"x":{"field":"x","type":"quantitative","scale":{"domain":[-3,3],"nice":false},"axis":null},
"y":{"field":"y","type":"quantitative","scale":{"domain":[-3,3],"nice":false},"axis":null},
"detail":{"field":"s"},
"color":{"field":"k","type":"nominal","scale":{"domain":["goal","combined","obstacle"],"range":["#ffff00","#ff0000","#00ff00"]},"legend":null},
"order":{"value":null}}},
{"data":{"name":"txt"},
"mark":{"type":"text","align":"left","baseline":"middle","font":"Liberation Sans","fontSize":18},
"encoding":{
"x":{"field":"x","type":"quantitative","scale":{"domain":[-3,3],"nice":false},"axis":null},
"y":{"field":"y","type":"quantitative","scale":{"domain":[-3,3],"nice":false},"axis":null},
"text":{"field":"t"},
"color":{"field":"k","type":"nominal","scale":{"domain":["goal","combined","obstacle"],"range":["#ffff00","#ff0000","#00ff00"]},"legend":null}}},
{"data":{"values":[{"a":1}]},
"mark":{"type":"rect","filled":false,"stroke":"black","strokeWidth":1},
"encoding":{
"x":{"datum":-3,"type":"quantitative","scale":{"domain":[-3,3],"nice":false},"axis":{"orient":"top","values":[-3,-2,-1,0,1,2,3],"labels":false,"title":null}},
"x2":{"datum":3},
"y":{"datum":-3,"type":"quantitative","scale":{"domain":[-3,3],"nice":false},"axis":{"orient":"right","values":[-3,-2,-1,0,1,2,3],"labels":false,"title":null}},
"y2":{"datum":3}}},
{"data":{"name":"cb"},
"mark":{"type":"rect"},
"encoding":{
"x":{"datum":3.126,"type":"quantitative","scale":{"domain":[-3,3],"nice":false},"axis":null},
"x2":{"datum":3.354},
"y":{"field":"lo","type":"quantitative","scale":{"domain":[0,2],"nice":false},"axis":{"orient":"right","offset":28,"values":[0.2,0.4,0.6,0.8,1,1.2,1.4,1.6,1.8,2],"format":"~g","tickSize":-4,"labelPadding":6,"title":null,"domain":true,"domainColor":"black"}},
"y2":{"field":"hi"},
"fill":{"field":"b","type":"ordinal","legend":null}}},
{"data":{"values":[{"a":1}]},
"mark":{"type":"rect","filled":false,"stroke":"black","strokeWidth":1},
"encoding":{
"x":{"datum":3.126,"type":"quantitative","scale":{"domain":[-3,3],"nice":false},"axis":null},
"x2":{"datum":3.354},
"y":{"datum":0,"type":"quantitative","scale":{"domain":[0,2],"nice":false},"axis":{"orient":"right","offset":10,"values":[0.2,0.4,0.6,0.8,1,1.2,1.4,1.6,1.8,2],"tickSize":4,"labels":false,"title":null}},
"y2":{"datum":2}}}
]
}
